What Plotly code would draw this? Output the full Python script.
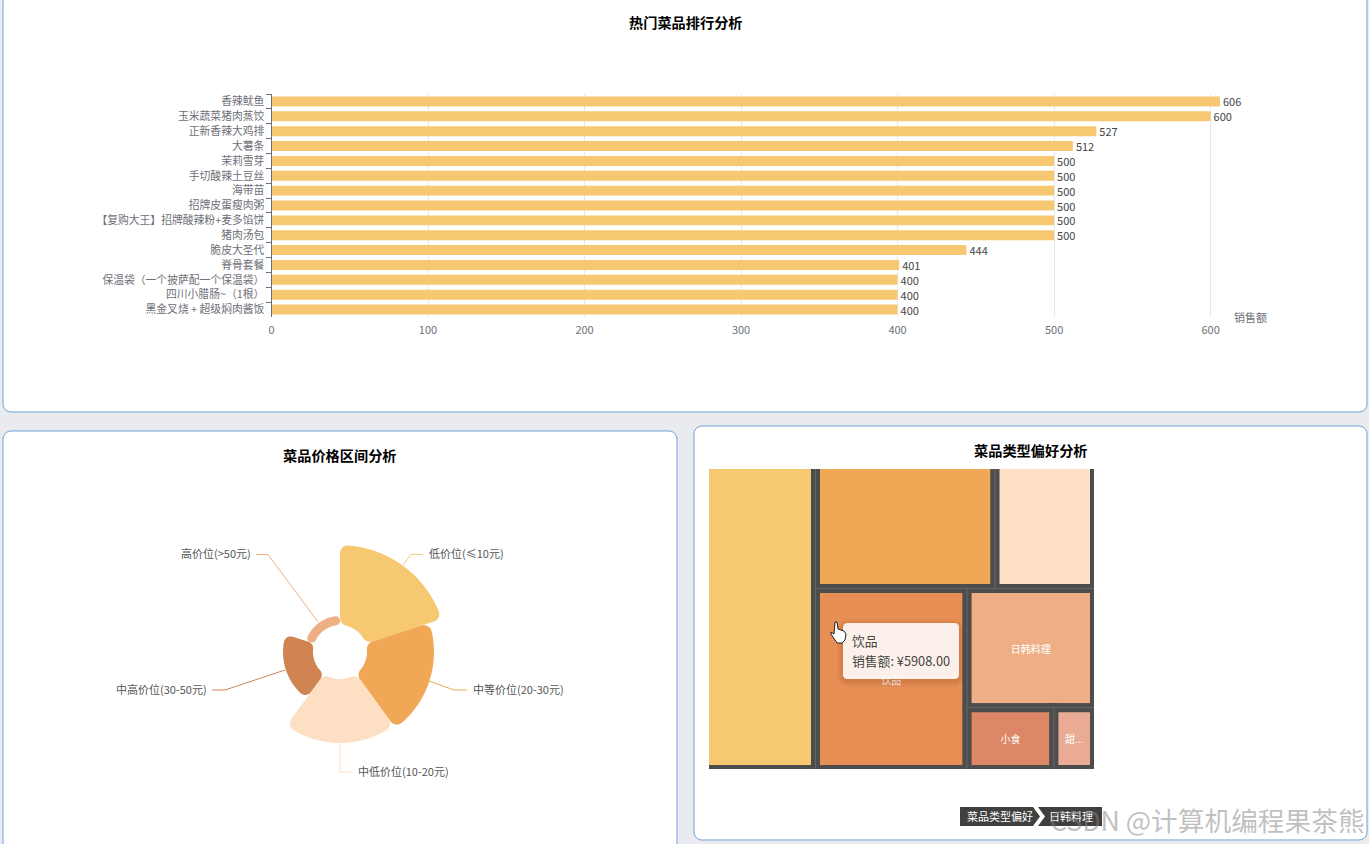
import math
import plotly.graph_objects as go

W, H = 1369, 844
FONT = "Noto Sans CJK SC"

# ---- data ----
dish_names = ["香辣鱿鱼", "玉米蔬菜猪肉蒸饺", "正新香辣大鸡排", "大薯条", "茉莉雪芽", "手切酸辣土豆丝", "海带苗",
              "招牌皮蛋瘦肉粥", "【复购大王】招牌酸辣粉+麦多馅饼", "猪肉汤包", "脆皮大圣代", "脊骨套餐",
              "保温袋（一个披萨配一个保温袋）", "四川小腊肠~（1根）", "黑金叉烧 + 超级焖肉酱饭"]
dish_sales = [606, 600, 527, 512, 500, 500, 500, 500, 500, 500, 444, 401, 400, 400, 400]
sales_ticks = [0, 100, 200, 300, 400, 500, 600]

price_names = ["低价位(≤10元)", "中等价位(20-30元)", "中低价位(10-20元)", "中高价位(30-50元)", "高价位(>50元)"]
price_values = [80, 67, 64, 30, 9]
price_colors = ["#F5C871", "#F0A856", "#FDDFC4", "#D08452", "#EFAF86"]

type_ids = ["root", "a", "right", "top", "bottom", "b", "c", "drink", "rest", "jp", "small", "snack", "sweet"]
type_parents = ["", "root", "root", "right", "right", "top", "top", "bottom", "bottom", "rest", "rest", "small", "small"]
type_labels = ["菜品类型偏好", "主食", "其他", "组一", "组二", "快餐", "粥汤", "饮品", "组三", "日韩料理", "组四", "小食", "甜品"]
type_values = [0, 7294, 0, 0, 0, 4796, 2658, 5908, 0, 3269, 0, 1155, 541]
type_shown = ["", "", "", "", "", "", "", "饮品", "", "日韩料理", "", "小食", "甜..."]
type_colors = ["#4D4D4D", "#F5C871", "#4D4D4D", "#4D4D4D", "#4D4D4D", "#F0A856", "#FDDFC4", "#E88F56", "#4D4D4D",
               "#EFAF86", "#4D4D4D", "#DD8766", "#E9AB94"]
leaf_gap = [0, 9, 0, 0, 0, 9, 9, 9, 0, 9, 0, 9, 9]


def fx(x):
    return x / W


def fy(y):
    return 1 - y / H


def path(points, close=True):
    s = "M" + " L".join(f"{fx(x):.5f},{fy(y):.5f}" for x, y in points)
    return s + (" Z" if close else "")


def round_rect(x0, y0, x1, y1, r):
    pts = []
    for cx, cy, a0 in ((x1 - r, y0 + r, -90), (x1 - r, y1 - r, 0), (x0 + r, y1 - r, 90), (x0 + r, y0 + r, 180)):
        for i in range(7):
            a = math.radians(a0 + 15 * i)
            pts.append((cx + r * math.cos(a), cy + r * math.sin(a)))
    return path(pts)


shapes = []
annos = []


def add_shape(d, fill=None, line=None, lw=1, layer="above", opacity=1):
    shapes.append(dict(type="path", path=d, xref="paper", yref="paper", fillcolor=fill or "rgba(0,0,0,0)",
                       line=dict(color=line or "rgba(0,0,0,0)", width=lw if line else 0), layer=layer, opacity=opacity))


def add_text(t, x, y, size=11, color="#666", anchor="center", bold=False, opacity=1):
    annos.append(dict(text=f"<b>{t}</b>" if bold else t, x=fx(x), y=fy(y - 1), xref="paper", yref="paper",
                      xanchor=anchor, yanchor="middle", showarrow=False, opacity=opacity, borderpad=0, borderwidth=0,
                      font=dict(family=FONT, size=size, color=color)))


# cards
CARD = "#6FA0DA"
for box in ((3, -6, 1367, 412), (3, 431, 677, 856), (694, 426, 1367, 840)):
    add_shape(round_rect(*box, 8), fill="#FFFFFF", line=CARD, lw=1, layer="below")

fig = go.Figure()

# ---- horizontal bars ----
fig.add_trace(go.Bar(y=dish_names, x=dish_sales, orientation="h", marker=dict(color="#F5C871", line=dict(width=0)),
                     text=dish_sales, textposition="outside", cliponaxis=False, width=0.67, constraintext="none",
                     textfont=dict(family=FONT, size=11, color="#444"), hoverinfo="skip", showlegend=False))
fig.update_layout(
    xaxis=dict(domain=[fx(271.5), fx(1220)], range=[0, dish_sales[0]], tickvals=sales_ticks + [dish_sales[0]],
               ticktext=[str(v) for v in sales_ticks] + [""], showgrid=True, gridcolor="#E6E8EE", gridwidth=1,
               zeroline=False, showline=False, ticks="", tickfont=dict(family=FONT, size=11, color="#6E7079"),
               anchor="y", fixedrange=True, ticklabelstandoff=5),
    yaxis=dict(domain=[fy(317), fy(94)], autorange="reversed", type="category", tickson="boundaries", ticks="outside",
               ticklen=5, tickcolor="#6E7079", showline=True, linecolor="#6E7079", linewidth=1, showgrid=False,
               tickfont=dict(family=FONT, size=10.8, color="#6E7079"), anchor="x", fixedrange=True, ticklabelstandoff=4),
)
add_text("销售额", 1250, 317.5, 11, "#6E7079")
add_text("热门菜品排行分析", 686, 23, 14.2, "#000", bold=True)

# ---- rose: rounded sector outlines built from each value, plotted on the polar axes ----
rose_hole = 27
rose_round = [8, 8, 8, 7, 4.4]


def arc(cx0, cy0, rad, a0, a1, n=8):
    return [(cx0 + rad * math.cos(a0 + (a1 - a0) * i / n), cy0 + rad * math.sin(a0 + (a1 - a0) * i / n))
            for i in range(n + 1)]


def sector_outline(r0, r1, a0, a1, c):
    """Rounded annular sector; angles in radians, returned as (radial value, degrees)."""
    pts = []
    d_o = math.asin(c / (r1 - c))
    d_i = math.asin(c / (r0 + c))
    co0 = ((r1 - c) * math.cos(a0 + d_o), (r1 - c) * math.sin(a0 + d_o))
    co1 = ((r1 - c) * math.cos(a1 - d_o), (r1 - c) * math.sin(a1 - d_o))
    ci0 = ((r0 + c) * math.cos(a0 + d_i), (r0 + c) * math.sin(a0 + d_i))
    ci1 = ((r0 + c) * math.cos(a1 - d_i), (r0 + c) * math.sin(a1 - d_i))
    hp = math.pi / 2
    pts += arc(*ci0, c, a0 + d_i + math.pi, a0 + 3 * hp)        # inner, start edge
    pts += arc(*co0, c, a0 - hp, a0 + d_o)                      # outer, start edge
    pts += arc(0, 0, r1, a0 + d_o, a1 - d_o, 24)                # outer arc
    pts += arc(*co1, c, a1 - d_o, a1 + hp)                      # outer, end edge
    pts += arc(*ci1, c, a1 + hp, a1 - d_i + math.pi)            # inner, end edge
    pts += arc(0, 0, r0, a1 - d_i, a0 + d_i, 12)                # inner arc
    rr = [math.hypot(x, y) - r0 for x, y in pts]
    tt = [math.degrees(math.atan2(y, x)) for x, y in pts]
    return rr, tt


for i, (name, v, col, c) in enumerate(zip(price_names, price_values, price_colors, rose_round)):
    start = math.radians(72 * i)
    rr, tt = sector_outline(rose_hole, rose_hole + v, start, start + math.radians(72), c)
    fig.add_trace(go.Scatterpolar(r=rr, theta=tt, mode="lines", fill="toself", fillcolor=col, name=name,
                                  line=dict(color=col, width=0), hoveron="fills", showlegend=False))

cx, cy, R = 340, 652, rose_hole + price_values[0]
fig.update_layout(polar=dict(
    domain=dict(x=[fx(cx - R), fx(cx + R)], y=[fy(cy + R), fy(cy - R)]), bgcolor="rgba(0,0,0,0)",
    radialaxis=dict(visible=False, range=[-rose_hole, price_values[0]]),
    angularaxis=dict(visible=False, rotation=90, direction="clockwise")))
add_text("菜品价格区间分析", 340, 456, 14.2, "#000", bold=True)
leaders = [
    ([(403, 565), (411, 554.5), (423, 554.5)], 429, 554, "left"),
    ([(429, 681), (454, 690), (467, 690)], 473, 689.5, "left"),
    ([(340, 743), (340, 772), (352, 772)], 358, 772, "left"),
    ([(285, 670), (225, 690), (212, 690)], 207, 689.5, "right"),
    ([(318, 622), (268, 554.5), (256, 554.5)], 251, 554, "right"),
]
for (pts, tx, ty, anc), name, col in zip(leaders, price_names, price_colors):
    add_shape(path(pts, close=False), line=col, lw=1)
    add_text(name, tx, ty, 11, "#555", anchor=anc)

# ---- treemap ----
fig.add_trace(go.Treemap(ids=type_ids, parents=type_parents, labels=type_labels, values=type_values,
                         branchvalues="remainder", sort=False, text=type_shown, textinfo="text",
                         textposition="middle center", insidetextfont=dict(family=FONT, size=10, color="#FFFFFF"),
                         tiling=dict(packing="slice-dice", pad=0),
                         marker=dict(colors=type_colors, line=dict(color="#4D4D4D", width=leaf_gap),
                                     pad=dict(t=0, l=0, r=0, b=0), depthfade=False),
                         pathbar=dict(visible=False), root=dict(color="#4D4D4D"),
                         domain=dict(x=[fx(704.5), fx(1094.5)], y=[fy(769.5), fy(464.5)]),
                         hovertemplate="%{label}<br>销售额: ¥%{value:.2f}<extra></extra>"))
# white masks: the reference clips the map's outer strokes
add_shape(path([(697, 455), (709, 455), (709, 778), (697, 778)]), fill="#FFFFFF")
add_shape(path([(697, 455), (1104, 455), (1104, 469), (697, 469)]), fill="#FFFFFF")
add_shape(path([(1094, 455), (1104, 455), (1104, 778), (1094, 778)]), fill="#FFFFFF")
add_shape(path([(697, 769), (1104, 769), (1104, 778), (697, 778)]), fill="#FFFFFF")
# thin group seams
for seg in ([(815.5, 469), (815.5, 769)], [(815.5, 588.5), (1094, 588.5)], [(995, 469), (995, 588.5)],
            [(967, 588.5), (967, 769)], [(967, 707.5), (1094, 707.5)], [(1054, 707.5), (1054, 769)]):
    add_shape(path(seg, close=False), line="#666666", lw=1)
add_text("菜品类型偏好分析", 1031, 451, 14.2, "#000", bold=True)

# tooltip
for grow, op in ((6, 0.05), (4, 0.07), (2, 0.09)):
    add_shape(round_rect(843 - grow, 623 - grow + 2, 959 + grow, 679 + grow + 2, 5 + grow), fill="#7A3A10", opacity=op)
add_shape(round_rect(843, 623, 959, 679, 4), fill="rgba(255,250,246,0.93)")
add_text("饮品", 852, 641.5, 12.8, "#444", anchor="left")
add_text("销售额: ¥5908.00", 852, 661.5, 12.8, "#444", anchor="left")
# pointer
add_shape(path([(835, 622), (837, 622), (838, 629), (844, 631), (846, 634), (845, 640), (842, 643), (837, 643),
                (831, 634), (831, 632), (834, 634)]), fill="#FFFFFF", line="#222", lw=1)

# breadcrumb
add_shape(path([(960, 807), (1033, 807), (1040, 816.5), (1033, 826), (960, 826)]), fill="#404040")
add_shape(path([(1038, 807), (1102, 807), (1102, 826), (1038, 826), (1045, 816.5)]), fill="#404040")
add_text("菜品类型偏好", 1000, 816.5, 11, "#FFFFFF")
add_text("日韩料理", 1071, 816.5, 11, "#FFFFFF")

# watermark
add_text("CSDN @计算机编程果茶熊", 1365, 820, 26.7, "rgba(130,130,130,0.5)", anchor="right")

fig.update_layout(width=W, height=H, margin=dict(l=0, r=0, t=0, b=0, pad=0, autoexpand=False), paper_bgcolor="#E9EBEE",
                  plot_bgcolor="rgba(0,0,0,0)", shapes=shapes, annotations=annos, font=dict(family=FONT),
                  showlegend=False)

css = ("var s=document.createElement('style');"
       "s.textContent='body{margin:0;overflow:hidden}';"
       "document.head.appendChild(s);")
fig.write_html("out.html", post_script=css, config=dict(displayModeBar=False))
